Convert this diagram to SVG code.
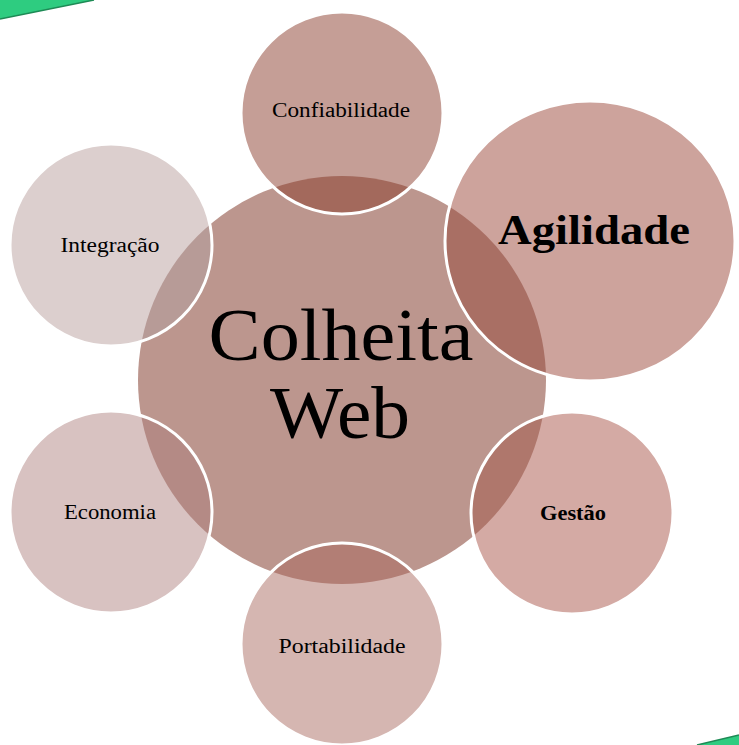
<svg xmlns="http://www.w3.org/2000/svg" width="739" height="745" viewBox="0 0 739 745">
<style>
.lbl{font-family:"Liberation Serif","Times New Roman",serif;fill:#000;text-anchor:middle}
.ring{fill:none;stroke:#fff;stroke-width:3}
.big{font-size:74px}
.sm{font-size:20px}
.bold{font-weight:bold}
</style>
<defs>
<clipPath id="cc"><circle cx="342" cy="380" r="204"/></clipPath>
</defs>
<rect width="739" height="745" fill="#fff"/>
<g id="decor">
<polygon points="0,0 94,0 0,19" fill="#2ECC80"/>
<line x1="0" y1="19" x2="94" y2="0" stroke="#1E8A55" stroke-width="1.5"/>
<polygon points="697,745 739,735 739,745" fill="#2ECC80"/>
<line x1="697" y1="745" x2="739" y2="735" stroke="#1E8A55" stroke-width="1.5"/>
</g>
<g id="center">
<circle cx="342" cy="380" r="204" fill="#BC968E"/>
</g>
<g id="connectors"></g>
<g id="confiabilidade">
<circle cx="342" cy="113" r="101" fill="#C59E96"/>
<circle cx="342" cy="113" r="101" fill="#A3695C" clip-path="url(#cc)"/>
<circle class="ring" cx="342" cy="113" r="101"/>
<text class="lbl sm" x="341" y="117" textLength="138" lengthAdjust="spacingAndGlyphs">Confiabilidade</text>
</g>
<g id="agilidade">
<ellipse cx="590" cy="241" rx="145" ry="140" fill="#CDA39C"/>
<ellipse cx="590" cy="241" rx="145" ry="140" fill="#A96F64" clip-path="url(#cc)"/>
<ellipse class="ring" cx="590" cy="241" rx="145" ry="140"/>
<text class="lbl bold" x="594" y="244" font-size="42" textLength="192" lengthAdjust="spacingAndGlyphs">Agilidade</text>
</g>
<g id="integracao">
<circle cx="111" cy="245" r="101" fill="#DCCFCE"/>
<circle cx="111" cy="245" r="101" fill="#B79B97" clip-path="url(#cc)"/>
<circle class="ring" cx="111" cy="245" r="101"/>
<text class="lbl sm" x="110" y="252" textLength="99" lengthAdjust="spacingAndGlyphs">Integração</text>
</g>
<g id="economia">
<circle cx="111" cy="512" r="101" fill="#D8C2C1"/>
<circle cx="111" cy="512" r="101" fill="#B48A85" clip-path="url(#cc)"/>
<circle class="ring" cx="111" cy="512" r="101"/>
<text class="lbl sm" x="110" y="519" textLength="92" lengthAdjust="spacingAndGlyphs">Economia</text>
</g>
<g id="portabilidade">
<circle cx="342" cy="644" r="101" fill="#D5B6B1"/>
<circle cx="342" cy="644" r="101" fill="#B27E75" clip-path="url(#cc)"/>
<circle class="ring" cx="342" cy="644" r="101"/>
<text class="lbl sm" x="342" y="653" textLength="127" lengthAdjust="spacingAndGlyphs">Portabilidade</text>
</g>
<g id="gestao">
<circle cx="572" cy="513" r="101" fill="#D4AAA4"/>
<circle cx="572" cy="513" r="101" fill="#AF776C" clip-path="url(#cc)"/>
<circle class="ring" cx="572" cy="513" r="101"/>
<text class="lbl sm bold" x="573" y="520" textLength="66" lengthAdjust="spacingAndGlyphs">Gestão</text>
</g>
<g id="center-label">
<text class="lbl big" x="341" y="360" textLength="265" lengthAdjust="spacingAndGlyphs">Colheita</text>
<text class="lbl big" x="340" y="438" textLength="140" lengthAdjust="spacingAndGlyphs">Web</text>
</g>
</svg>
